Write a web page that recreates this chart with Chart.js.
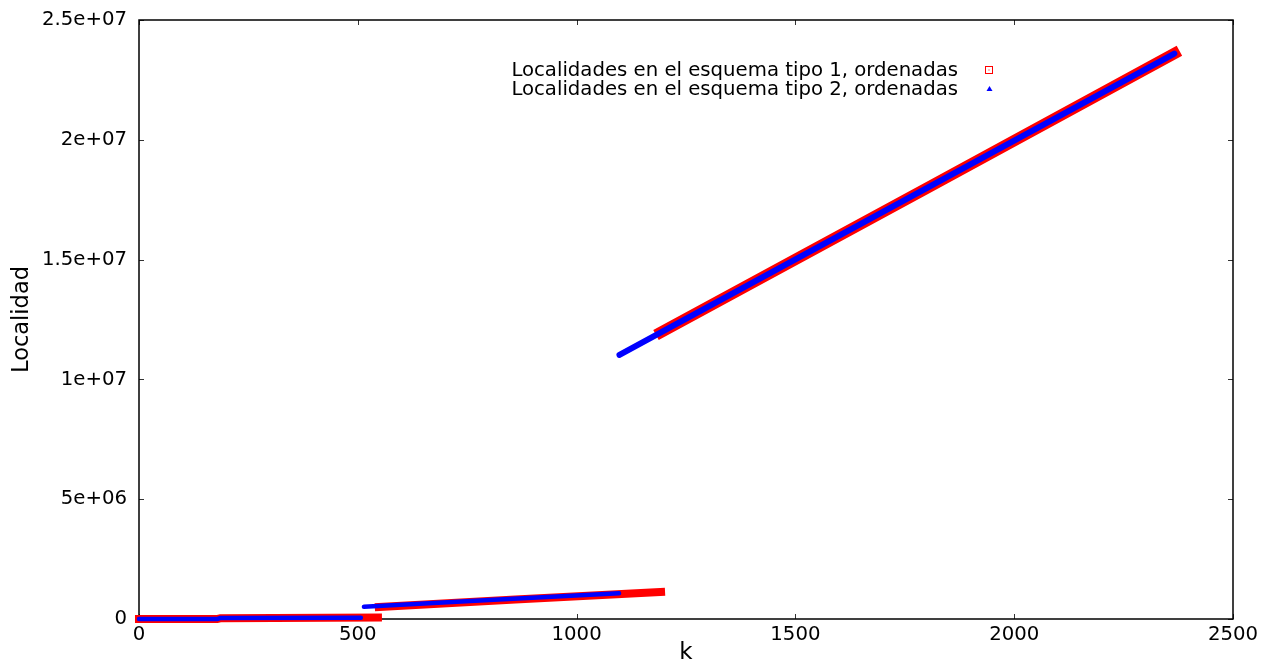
<!DOCTYPE html>
<html><head><meta charset="utf-8">
<script src="https://cdn.jsdelivr.net/npm/chart.js@4.4.1/dist/chart.umd.min.js"></script>
<style>html,body{margin:0;padding:0;background:#fff}#wrap{width:1264px;height:661px}</style>
</head><body><div id="wrap"><canvas id="c" width="1264" height="661"></canvas></div>
<script>
const seriesNames = ['Localidades en el esquema tipo 1, ordenadas', 'Localidades en el esquema tipo 2, ordenadas'];
const xTitle = 'k';
const yTitle = 'Localidad';
// Series 1 (tipo 1, red squares), read per segment
const tipo1SegA_k = [0, 180, 185, 546];
const tipo1SegA_loc = [0, 5000, 30000, 60000];
const tipo1SegB_k = [548, 860, 1193];
const tipo1SegB_loc = [500000, 810000, 1130000];
const tipo1SegC_k = [1193, 1800, 2366];
const tipo1SegC_loc = [11970000, 17980000, 23600000];
// Series 2 (tipo 2, blue triangles)
const tipo2SegA_k = [0, 180, 185, 507];
const tipo2SegA_loc = [0, 5000, 40000, 55000];
const tipo2SegB_k = [514, 800, 1097];
const tipo2SegB_loc = [510000, 790000, 1070000];
const tipo2SegC_k = [1098, 1800, 2366];
const tipo2SegC_loc = [11020000, 17980000, 23600000];
// Axes
const xTicks = [0, 500, 1000, 1500, 2000, 2500];
const xTickLabels = ['0', '500', '1000', '1500', '2000', '2500'];
const yTicks = [0, 5e6, 1e7, 1.5e7, 2e7, 2.5e7];
const yTickLabels = ['0', '5e+06', '1e+07', '1.5e+07', '2e+07', '2.5e+07'];

const RED = '#ff0000', BLUE = '#0000ff';
const FONT = 19.7;
function pts(ks, locs) { return ks.map((k, i) => ({x: k, y: locs[i]})); }
function ds(label, ks, locs, color, width, cap, order) {
  return {label, data: pts(ks, locs), borderColor: color, backgroundColor: color,
    borderWidth: width, borderCapStyle: cap, borderJoinStyle: 'round', showLine: true,
    pointRadius: 0, pointHoverRadius: 0, fill: false, tension: 0, order, clip: false};
}

const frame = {
  id: 'frame',
  beforeDatasetsDraw(chart) {
    const {ctx, chartArea: a, scales: {x, y}} = chart;
    ctx.save();
    ctx.strokeStyle = '#333';
    ctx.lineWidth = 1;
    ctx.beginPath();
    x.ticks.forEach(t => {
      const px = Math.round(x.getPixelForValue(t.value)) + 0.5;
      ctx.moveTo(px, a.bottom); ctx.lineTo(px, a.bottom - 5);
      ctx.moveTo(px, a.top); ctx.lineTo(px, a.top + 5);
    });
    y.ticks.forEach(t => {
      const py = Math.round(y.getPixelForValue(t.value)) + 0.5;
      ctx.moveTo(a.left, py); ctx.lineTo(a.left + 5, py);
      ctx.moveTo(a.right, py); ctx.lineTo(a.right - 5, py);
    });
    ctx.stroke();
    ctx.strokeStyle = '#000';
    ctx.lineWidth = 1.5;
    ctx.strokeRect(a.left, a.top, a.right - a.left, a.bottom - a.top);
    ctx.restore();
  },
  afterDraw(chart) {
    const ctx = chart.ctx;
    ctx.save();
    ctx.font = FONT + 'px "DejaVu Sans"';
    ctx.fillStyle = '#000';
    ctx.textAlign = 'right';
    ctx.textBaseline = 'alphabetic';
    ctx.fillText(seriesNames[0], 958, 76);
    ctx.fillText(seriesNames[1], 958, 95);
    // red open square with centre dot
    ctx.strokeStyle = RED; ctx.lineWidth = 1;
    ctx.strokeRect(985.5, 66.5, 7, 7);
    ctx.fillStyle = RED; ctx.fillRect(988.5, 69.5, 1, 1);
    // blue filled triangle
    ctx.fillStyle = BLUE;
    ctx.beginPath();
    ctx.moveTo(989.5, 86); ctx.lineTo(992.5, 91); ctx.lineTo(986.5, 91); ctx.closePath();
    ctx.fill();
    ctx.restore();
  }
};

Chart.defaults.font.family = '"DejaVu Sans"';
Chart.defaults.color = '#000';

new Chart(document.getElementById('c'), {
  type: 'scatter',
  data: {datasets: [
    ds(seriesNames[0], tipo1SegA_k, tipo1SegA_loc, RED, 8, 'square', 2),
    ds(seriesNames[0], tipo1SegB_k, tipo1SegB_loc, RED, 8, 'square', 2),
    ds(seriesNames[0], tipo1SegC_k, tipo1SegC_loc, RED, 11.5, 'square', 2),
    ds(seriesNames[1], tipo2SegA_k, tipo2SegA_loc, BLUE, 4.5, 'round', 1),
    ds(seriesNames[1], tipo2SegB_k, tipo2SegB_loc, BLUE, 4.5, 'round', 1),
    ds(seriesNames[1], tipo2SegC_k, tipo2SegC_loc, BLUE, 6, 'round', 1)
  ]},
  options: {
    responsive: false, animation: false, devicePixelRatio: 1,
    layout: {padding: {top: 20, right: 31, left: 0, bottom: 0}},
    plugins: {legend: {display: false}, tooltip: {enabled: false}},
    events: [],
    scales: {
      x: {
        type: 'linear', min: 0, max: 2500,
        afterBuildTicks: s => { s.ticks = xTicks.map(v => ({value: v})); },
        afterFit: s => { s.height = 42; s.paddingLeft = 0; s.paddingRight = 0; },
        ticks: {font: {size: FONT}, color: '#000', padding: 4, maxRotation: 0,
          callback: v => xTickLabels[xTicks.indexOf(v)]},
        grid: {display: false, drawTicks: false},
        border: {display: false},
        title: {display: true, text: xTitle, font: {size: 23}, color: '#000', padding: {top: 0, bottom: -6}}
      },
      y: {
        type: 'linear', min: 0, max: 2.5e7,
        afterBuildTicks: s => { s.ticks = yTicks.map(v => ({value: v})); },
        afterFit: s => { s.width = 139; s.paddingTop = 0; s.paddingBottom = 0; },
        ticks: {font: {size: FONT}, color: '#000', padding: 12,
          callback: v => yTickLabels[yTicks.indexOf(v)]},
        grid: {display: false, drawTicks: false},
        border: {display: false},
        title: {display: true, text: yTitle, font: {size: 22.5}, color: '#000', padding: {top: 9, bottom: 0}}
      }
    }
  },
  plugins: [frame]
});
</script>
</body></html>
